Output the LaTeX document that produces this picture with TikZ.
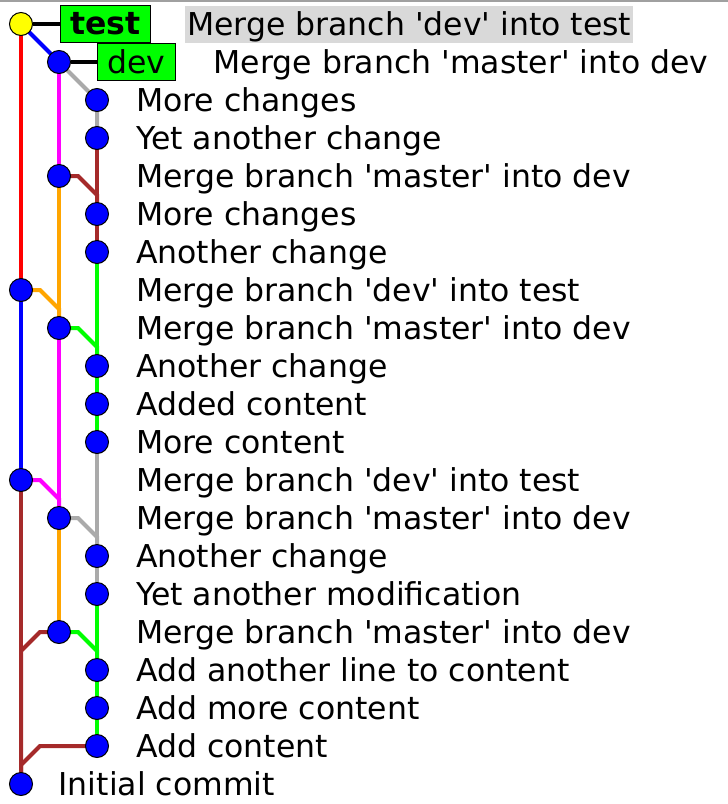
\documentclass[tikz,border=0pt]{standalone}
\usepackage{fontspec}
\setmainfont{DejaVu Sans}[Ligatures=TeXOff]
\usetikzlibrary{backgrounds}

\definecolor{dotblue}{HTML}{0000FF}
\definecolor{headyellow}{HTML}{FFFF00}
\definecolor{tagfill}{HTML}{00FF00}
\definecolor{selgray}{HTML}{D9D9D9}
\definecolor{framegray}{HTML}{A0A0A0}
\definecolor{lred}{HTML}{FF0000}
\definecolor{lblue}{HTML}{0000FF}
\definecolor{lmagenta}{HTML}{FF00FF}
\definecolor{lgray}{HTML}{AAAAAA}
\definecolor{lbrown}{HTML}{A52A2A}
\definecolor{lorange}{HTML}{FFA500}
\definecolor{lgreen}{HTML}{00FF00}

\begin{document}
\begin{tikzpicture}[x=1pt, y=-1pt,
  commit/.style={circle, draw=black, line width=1pt, fill=dotblue,
    minimum size=23pt, inner sep=0pt},
  head/.style={commit, fill=headyellow},
  branchline/.style={line width=4pt, line join=miter},
  reflabel/.style={draw=black, line width=1pt, fill=tagfill, anchor=west,
    inner xsep=10pt, inner ysep=0pt, minimum height=37pt,
    font=\fontsize{31.5}{38}\selectfont},
  reflink/.style={line width=4.5pt, draw=black},
  msg/.style={anchor=base west, inner sep=0pt,
    font=\fontsize{31.5}{38}\selectfont},
  selmsg/.style={msg, fill=selgray, inner xsep=2pt,
    text height=29.5pt, text depth=7.5pt},
  frame/.style={line width=2pt, draw=framegray}]

\useasboundingbox (0,0) rectangle (728,804);

% window edge along the top
\coordinate (fl) at (0,1);
\coordinate (fr) at (728,1);
\draw[frame] (fl) -- (fr);

% commits: column x = 21 + 38*col, row y = 24 + 38*row
\node[head]   (c0)  at (21,24)  {};
\node[commit] (c1)  at (59,62)  {};
\node[commit] (c2)  at (97,100) {};
\node[commit] (c3)  at (97,138) {};
\node[commit] (c4)  at (59,176) {};
\node[commit] (c5)  at (97,214) {};
\node[commit] (c6)  at (97,252) {};
\node[commit] (c7)  at (21,290) {};
\node[commit] (c8)  at (59,328) {};
\node[commit] (c9)  at (97,366) {};
\node[commit] (c10) at (97,404) {};
\node[commit] (c11) at (97,442) {};
\node[commit] (c12) at (21,480) {};
\node[commit] (c13) at (59,518) {};
\node[commit] (c14) at (97,556) {};
\node[commit] (c15) at (97,594) {};
\node[commit] (c16) at (59,632) {};
\node[commit] (c17) at (97,670) {};
\node[commit] (c18) at (97,708) {};
\node[commit] (c19) at (97,746) {};
\node[commit] (c20) at (21,784) {};

% parent links, behind the commit dots
\begin{pgfonlayer}{background}
  \draw[branchline, lred]     (c0.center) -- (c7.center);
  \draw[branchline, lblue]    (c0.center) -- (c1.center);
  \draw[branchline, lblue]    (c7.center) -- (c12.center);
  \draw[branchline, lbrown]   (c12.center) -- (c20.center);

  \draw[branchline, lmagenta] (c1.center) -- (c4.center);
  \draw[branchline, lgray]    (c1.center) -- (c2.center) -- (c3.center);
  \draw[branchline, lbrown]   (c3.center) -- (c5.center) -- (c6.center);
  \draw[branchline, lbrown]   (c4.center) -- ++(19,0) -- ++(19,19) -- (c5.center);

  \draw[branchline, lorange]  (c4.center) -- (c8.center);
  \draw[branchline, lorange]  (c7.center) -- ++(19,0) -- ++(19,19) -- (c8.center);

  \draw[branchline, lgreen]   (c6.center) -- (c9.center) -- (c10.center) -- (c11.center);
  \draw[branchline, lgreen]   (c8.center) -- ++(19,0) -- ++(19,19) -- (c9.center);

  \draw[branchline, lmagenta] (c8.center) -- (c13.center);
  \draw[branchline, lmagenta] (c12.center) -- ++(19,0) -- ++(19,19) -- (c13.center);

  \draw[branchline, lgray]    (c11.center) -- (c14.center) -- (c15.center);
  \draw[branchline, lgray]    (c13.center) -- ++(19,0) -- ++(19,19) -- (c14.center);

  \draw[branchline, lorange]  (c13.center) -- (c16.center);

  \draw[branchline, lgreen]   (c15.center) -- (c17.center) -- (c18.center) -- (c19.center);
  \draw[branchline, lgreen]   (c16.center) -- ++(19,0) -- ++(19,19) -- (c17.center);

  \draw[branchline, lbrown]   (c16.center) -- ++(-19,0) -- ++(-19,19) -- (c20.center);
  \draw[branchline, lbrown]   (c19.center) -- ++(-57,0) -- ++(-19,19) -- (c20.center);
\end{pgfonlayer}

% branch name tags
\node[reflabel] (ltest) at (60,24) {\bfseries test};
\node[reflabel] (ldev)  at (97,62) {dev};
\draw[reflink] (c0) -- (ltest);
\draw[reflink] (c1) -- (ldev);

% commit messages
\node[selmsg] (m0)  at (185,35.5)  {Merge branch 'dev' into test};
\node[msg]    (m1)  at (213.5,73.5) {Merge branch 'master' into dev};
\node[msg]    (m2)  at (136,111.5) {More changes};
\node[msg]    (m3)  at (136,149.5) {Yet another change};
\node[msg]    (m4)  at (136,187.5) {Merge branch 'master' into dev};
\node[msg]    (m5)  at (136,225.5) {More changes};
\node[msg]    (m6)  at (136,263.5) {Another change};
\node[msg]    (m7)  at (136,301.5) {Merge branch 'dev' into test};
\node[msg]    (m8)  at (136,339.5) {Merge branch 'master' into dev};
\node[msg]    (m9)  at (136,377.5) {Another change};
\node[msg]    (m10) at (136,415.5) {Added content};
\node[msg]    (m11) at (136,453.5) {More content};
\node[msg]    (m12) at (136,491.5) {Merge branch 'dev' into test};
\node[msg]    (m13) at (136,529.5) {Merge branch 'master' into dev};
\node[msg]    (m14) at (136,567.5) {Another change};
\node[msg]    (m15) at (136,605.5) {Yet another modification};
\node[msg]    (m16) at (136,643.5) {Merge branch 'master' into dev};
\node[msg]    (m17) at (136,681.5) {Add another line to content};
\node[msg]    (m18) at (136,719.5) {Add more content};
\node[msg]    (m19) at (136,757.5) {Add content};
\node[msg]    (m20) at (58.5,795.5) {Initial commit};
\end{tikzpicture}
\end{document}
